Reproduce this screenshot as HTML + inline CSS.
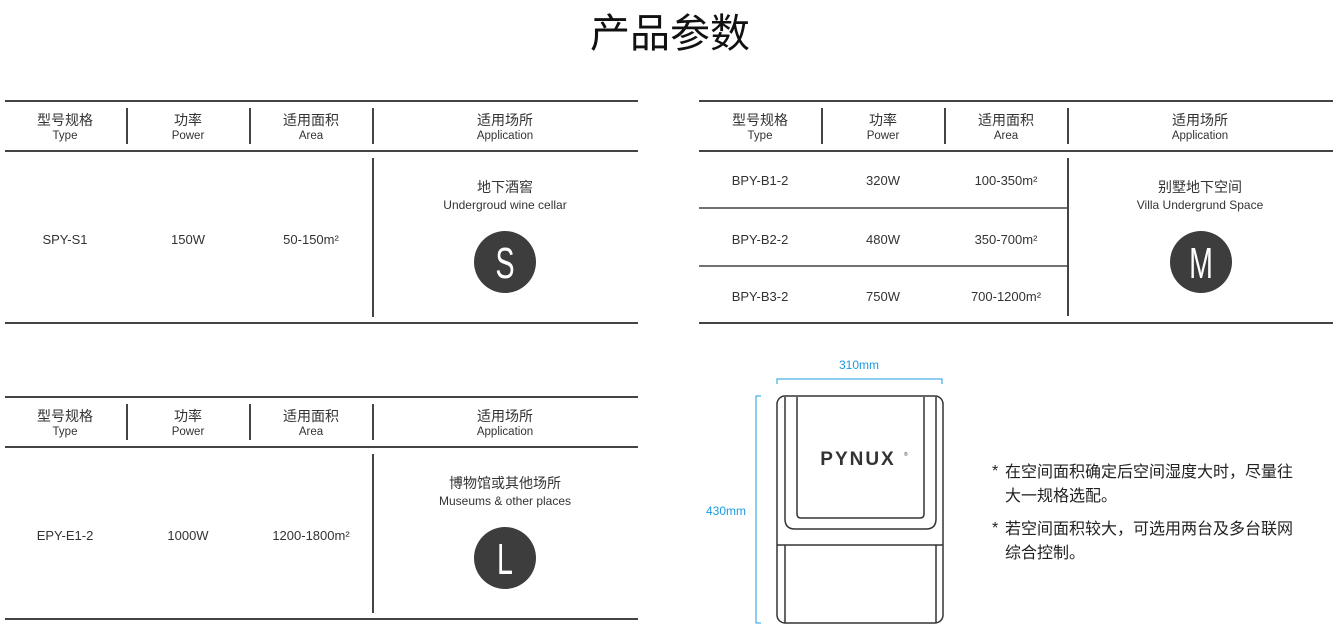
<!DOCTYPE html>
<html><head><meta charset="utf-8"><style>
html,body{margin:0;padding:0;background:#fff;}
svg{display:block;}
text{font-family:"Liberation Sans","Noto Sans CJK SC",sans-serif;fill:#333;}
.cn{font-size:14px;}
.en{font-size:11.5px;}
.v{font-size:13px;}
.ap1{font-size:14px;}
.ap2{font-size:12px;}
.big{font-size:44px;fill:#fff;}
.n{font-size:16px;fill:#222;}
.b{font-size:12px;fill:#1a9be0;}
</style></head><body>
<svg width="1340" height="640" viewBox="0 0 1340 640" xmlns="http://www.w3.org/2000/svg">
<text x="670" y="47" text-anchor="middle" style="font-size:40px;fill:#111">产品参数</text>

<!-- Table 1 -->
<g stroke="#444" fill="none">
<line x1="5" y1="101" x2="638" y2="101" stroke-width="2"/>
<line x1="5" y1="151" x2="638" y2="151" stroke-width="2"/>
<line x1="5" y1="323" x2="638" y2="323" stroke-width="2"/>
<line x1="127" y1="108" x2="127" y2="144" stroke-width="2"/>
<line x1="250" y1="108" x2="250" y2="144" stroke-width="2"/>
<line x1="373" y1="108" x2="373" y2="144" stroke-width="2"/>
<line x1="373" y1="158" x2="373" y2="317" stroke-width="2"/>
</g>
<g text-anchor="middle">
<text class="cn" x="65" y="125">型号规格</text><text class="en" x="65" y="139">Type</text>
<text class="cn" x="188" y="125">功率</text><text class="en" x="188" y="139">Power</text>
<text class="cn" x="311" y="125">适用面积</text><text class="en" x="311" y="139">Area</text>
<text class="cn" x="505" y="125">适用场所</text><text class="en" x="505" y="139">Application</text>
<text class="v" x="65" y="244">SPY-S1</text>
<text class="v" x="188" y="244">150W</text>
<text class="v" x="311" y="244">50-150m²</text>
<text class="ap1" x="505" y="192">地下酒窖</text>
<text class="ap2" x="505" y="209">Undergroud wine cellar</text>
</g>
<circle cx="505" cy="262" r="31" fill="#3d3d3d"/>
<text class="big" x="505" y="278" text-anchor="middle" transform="translate(505 0) scale(0.65 1) translate(-505 0)">S</text>

<!-- Table 2 -->
<g stroke="#444" fill="none">
<line x1="699" y1="101" x2="1333" y2="101" stroke-width="2"/>
<line x1="699" y1="151" x2="1333" y2="151" stroke-width="2"/>
<line x1="699" y1="323" x2="1333" y2="323" stroke-width="2"/>
<line x1="822" y1="108" x2="822" y2="144" stroke-width="2"/>
<line x1="945" y1="108" x2="945" y2="144" stroke-width="2"/>
<line x1="1068" y1="108" x2="1068" y2="144" stroke-width="2"/>
<line x1="1068" y1="158" x2="1068" y2="316" stroke-width="2"/>
<line x1="699" y1="208" x2="1068" y2="208" stroke-width="1.5"/>
<line x1="699" y1="266" x2="1068" y2="266" stroke-width="1.5"/>
</g>
<g text-anchor="middle">
<text class="cn" x="760" y="125">型号规格</text><text class="en" x="760" y="139">Type</text>
<text class="cn" x="883" y="125">功率</text><text class="en" x="883" y="139">Power</text>
<text class="cn" x="1006" y="125">适用面积</text><text class="en" x="1006" y="139">Area</text>
<text class="cn" x="1200" y="125">适用场所</text><text class="en" x="1200" y="139">Application</text>
<text class="v" x="760" y="185">BPY-B1-2</text><text class="v" x="883" y="185">320W</text><text class="v" x="1006" y="185">100-350m²</text>
<text class="v" x="760" y="244">BPY-B2-2</text><text class="v" x="883" y="244">480W</text><text class="v" x="1006" y="244">350-700m²</text>
<text class="v" x="760" y="301">BPY-B3-2</text><text class="v" x="883" y="301">750W</text><text class="v" x="1006" y="301">700-1200m²</text>
<text class="ap1" x="1200" y="192">别墅地下空间</text>
<text class="ap2" x="1200" y="209">Villa Undergrund Space</text>
</g>
<circle cx="1201" cy="262" r="31" fill="#3d3d3d"/>
<text class="big" x="1201" y="278" text-anchor="middle" transform="translate(1201 0) scale(0.65 1) translate(-1201 0)">M</text>

<!-- Table 3 -->
<g stroke="#444" fill="none">
<line x1="5" y1="397" x2="638" y2="397" stroke-width="2"/>
<line x1="5" y1="447" x2="638" y2="447" stroke-width="2"/>
<line x1="5" y1="619" x2="638" y2="619" stroke-width="2"/>
<line x1="127" y1="404" x2="127" y2="440" stroke-width="2"/>
<line x1="250" y1="404" x2="250" y2="440" stroke-width="2"/>
<line x1="373" y1="404" x2="373" y2="440" stroke-width="2"/>
<line x1="373" y1="454" x2="373" y2="613" stroke-width="2"/>
</g>
<g text-anchor="middle">
<text class="cn" x="65" y="421">型号规格</text><text class="en" x="65" y="435">Type</text>
<text class="cn" x="188" y="421">功率</text><text class="en" x="188" y="435">Power</text>
<text class="cn" x="311" y="421">适用面积</text><text class="en" x="311" y="435">Area</text>
<text class="cn" x="505" y="421">适用场所</text><text class="en" x="505" y="435">Application</text>
<text class="v" x="65" y="540">EPY-E1-2</text>
<text class="v" x="188" y="540">1000W</text>
<text class="v" x="311" y="540">1200-1800m²</text>
<text class="ap1" x="505" y="488">博物馆或其他场所</text>
<text class="ap2" x="505" y="505">Museums &amp; other places</text>
</g>
<circle cx="505" cy="558" r="31" fill="#3d3d3d"/>
<text class="big" x="505" y="574" text-anchor="middle" transform="translate(505 0) scale(0.65 1) translate(-505 0)">L</text>

<!-- Dimensions -->
<g stroke="#1a9be0" fill="none" stroke-width="1">
<polyline points="777,384 777,379 942,379 942,384"/>
<polyline points="761,396 756,396 756,623 761,623"/>
</g>
<text class="b" x="859" y="369" text-anchor="middle">310mm</text>
<text class="b" x="726" y="515" text-anchor="middle">430mm</text>

<!-- Device -->
<g stroke="#333" fill="none" stroke-width="1.5">
<rect x="777" y="396" width="166" height="227" rx="8"/>
<line x1="777" y1="545" x2="943" y2="545"/>
<path d="M785,397 L785,519 Q785,529 795,529 L926,529 Q936,529 936,519 L936,397"/>
<path d="M797,397 L797,514 Q797,518 801,518 L920,518 Q924,518 924,514 L924,397"/>
<line x1="785" y1="545" x2="785" y2="623"/>
<line x1="936" y1="545" x2="936" y2="623"/>
</g>
<text x="858" y="465" text-anchor="middle" style="font-size:19px;font-weight:bold;letter-spacing:2px;fill:#333">PYNUX</text>
<text x="904" y="456" style="font-size:5px;fill:#333">®</text>

<!-- Notes -->
<text class="n" x="992" y="476">*</text>
<text class="n" x="1005" y="477">在空间面积确定后空间湿度大时，尽量往</text>
<text class="n" x="1005" y="501">大一规格选配。</text>
<text class="n" x="992" y="533">*</text>
<text class="n" x="1005" y="534">若空间面积较大，可选用两台及多台联网</text>
<text class="n" x="1005" y="558">综合控制。</text>
</svg>
</body></html>
